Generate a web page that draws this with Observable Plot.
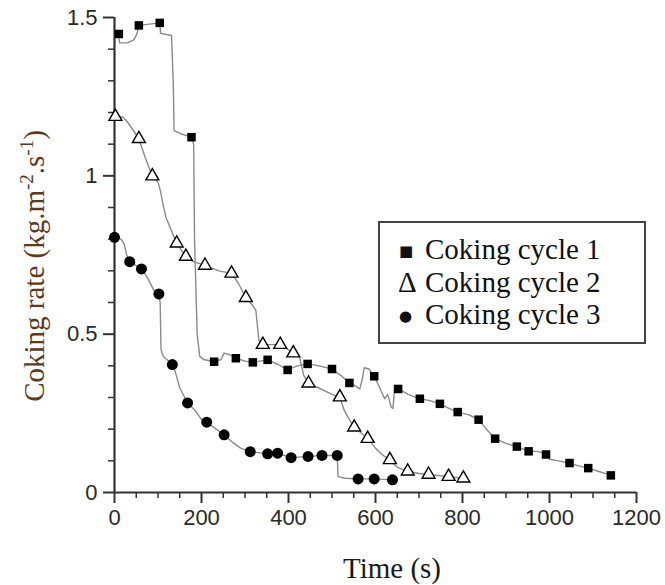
<!DOCTYPE html>
<html>
<head>
<meta charset="utf-8">
<script src="https://cdn.jsdelivr.net/npm/d3@7"></script>
<script src="https://cdn.jsdelivr.net/npm/@observablehq/plot@0.6"></script>
<style>
  html, body { margin: 0; padding: 0; background: white; }
  #chart { position: relative; width: 665px; height: 585px; }
</style>
</head>
<body>
<div id="chart"></div>
<script>
// ---- Data ----
// Coking cycle 1 (squares)
const c1Time = [10, 56, 104, 177, 229, 279, 318, 352, 398, 444, 500, 540, 597, 652, 702, 748, 789, 837, 875, 925, 952, 992, 1046, 1089, 1141];
const c1Rate = [1.448, 1.475, 1.483, 1.122, 0.413, 0.424, 0.411, 0.419, 0.387, 0.406, 0.39, 0.346, 0.367, 0.327, 0.296, 0.28, 0.254, 0.23, 0.17, 0.145, 0.13, 0.12, 0.093, 0.077, 0.054];
const c1TraceTime = [8, 12, 30, 45, 52, 56, 104, 106, 131, 135, 137, 152, 177, 182, 184, 190, 196, 205, 229, 245, 252, 265, 279, 300, 318, 335, 352, 375, 398, 420, 444, 470, 500, 520, 540, 555, 564, 570, 574, 585, 597, 610, 621, 628, 636, 640, 644, 652, 675, 702, 725, 748, 770, 789, 815, 837, 855, 875, 900, 925, 952, 970, 985, 992, 1000, 1020, 1046, 1065, 1089, 1110, 1141];
const c1TraceRate = [1.45, 1.42, 1.42, 1.43, 1.45, 1.475, 1.483, 1.45, 1.443, 1.30, 1.143, 1.133, 1.122, 1.10, 0.80, 0.50, 0.43, 0.42, 0.413, 0.42, 0.44, 0.435, 0.424, 0.415, 0.411, 0.415, 0.419, 0.405, 0.387, 0.40, 0.406, 0.40, 0.39, 0.37, 0.346, 0.335, 0.327, 0.36, 0.394, 0.39, 0.367, 0.33, 0.296, 0.31, 0.27, 0.265, 0.33, 0.327, 0.31, 0.296, 0.29, 0.28, 0.265, 0.254, 0.245, 0.23, 0.2, 0.17, 0.155, 0.145, 0.13, 0.13, 0.125, 0.12, 0.105, 0.1, 0.093, 0.085, 0.077, 0.068, 0.054];

// Coking cycle 2 (triangles)
const c2Time = [2, 56, 87, 143, 164, 208, 269, 302, 341, 381, 411, 446, 518, 551, 582, 633, 674, 722, 768, 802];
const c2Rate = [1.187, 1.117, 0.999, 0.787, 0.745, 0.717, 0.692, 0.615, 0.467, 0.467, 0.44, 0.345, 0.301, 0.206, 0.17, 0.103, 0.067, 0.057, 0.05, 0.045];
const c2TraceTime = [0, 20, 30, 45, 56, 70, 87, 100, 106, 110, 118, 130, 143, 164, 180, 208, 240, 269, 285, 302, 318, 325, 332, 341, 381, 395, 411, 425, 435, 446, 470, 500, 518, 528, 540, 551, 565, 582, 600, 615, 633, 650, 674, 700, 722, 768, 802];
const c2TraceRate = [1.19, 1.185, 1.17, 1.14, 1.117, 1.06, 0.999, 0.98, 0.95, 0.92, 0.87, 0.83, 0.787, 0.745, 0.73, 0.717, 0.70, 0.692, 0.66, 0.615, 0.59, 0.575, 0.48, 0.467, 0.467, 0.455, 0.44, 0.43, 0.37, 0.345, 0.33, 0.31, 0.301, 0.26, 0.23, 0.206, 0.19, 0.17, 0.14, 0.12, 0.103, 0.08, 0.067, 0.06, 0.057, 0.05, 0.045];

// Coking cycle 3 (circles)
const c3Time = [0, 35, 62, 102, 133, 168, 212, 252, 312, 352, 375, 406, 445, 477, 512, 560, 597, 639];
const c3Rate = [0.806, 0.729, 0.706, 0.627, 0.404, 0.283, 0.222, 0.182, 0.129, 0.122, 0.124, 0.11, 0.114, 0.117, 0.117, 0.043, 0.043, 0.04];
const c3TraceTime = [0, 15, 22, 28, 35, 62, 75, 90, 102, 105, 107, 112, 133, 140, 150, 168, 185, 200, 212, 252, 270, 290, 312, 352, 375, 406, 445, 477, 512, 514, 530, 560, 597, 639];
const c3TraceRate = [0.806, 0.80, 0.785, 0.75, 0.729, 0.706, 0.68, 0.64, 0.627, 0.60, 0.45, 0.43, 0.404, 0.38, 0.33, 0.283, 0.26, 0.23, 0.222, 0.182, 0.16, 0.14, 0.129, 0.122, 0.124, 0.11, 0.114, 0.117, 0.117, 0.05, 0.045, 0.043, 0.043, 0.04];

// Ticks and texts
const xMajorTicks = [0, 200, 400, 600, 800, 1000, 1200];
const xMinorTicks = [50, 100, 150, 250, 300, 350, 450, 500, 550, 650, 700, 750, 850, 900, 950, 1050, 1100, 1150];
const yMajorTicks = [0, 0.5, 1, 1.5];
const yMinorTicks = [0.1, 0.2, 0.3, 0.4, 0.6, 0.7, 0.8, 0.9, 1.1, 1.2, 1.3, 1.4];
const seriesNames = ["Coking cycle 1", "Coking cycle 2", "Coking cycle 3"];
const legendGlyphs = ["\u25A0", "\u0394", "\u25CF"];
const xTitle = "Time (s)";
const yTitleParts = ["Coking rate (kg.m", "-2", ".s", "-1", ")"];

// ---- Build tables ----
const zip = (t, r) => t.map((d, i) => ({t: d, r: r[i]}));
const c1 = zip(c1Time, c1Rate), c1Trace = zip(c1TraceTime, c1TraceRate);
const c2 = zip(c2Time, c2Rate), c2Trace = zip(c2TraceTime, c2TraceRate);
const c3 = zip(c3Time, c3Rate), c3Trace = zip(c3TraceTime, c3TraceRate);

const axisColor = "#333";
const lineColor = "#8a8a8a";

const svg = Plot.plot({
  width: 665,
  height: 585,
  marginLeft: 114,
  marginRight: 29,
  marginTop: 17,
  marginBottom: 93,
  x: {domain: [0, 1200]},
  y: {domain: [0, 1.5]},
  style: {fontFamily: "'Liberation Sans', Arial, sans-serif", fontSize: "22px", color: "#2a2a2a", background: "white", overflow: "visible"},
  marks: [
    Plot.axisX({ticks: xMinorTicks, tickSize: 6, tickFormat: () => "", label: null, stroke: axisColor, strokeWidth: 1.5}),
    Plot.axisX({ticks: xMajorTicks, tickSize: 11, tickPadding: 6, tickFormat: d => String(d), label: null, stroke: axisColor, strokeWidth: 2}),
    Plot.axisY({ticks: yMinorTicks, tickSize: 6, tickFormat: () => "", label: null, stroke: axisColor, strokeWidth: 1.5}),
    Plot.axisY({ticks: yMajorTicks, tickSize: 11, tickPadding: 6, tickFormat: d => String(d), label: null, stroke: axisColor, strokeWidth: 2}),
    Plot.ruleY([0], {stroke: axisColor, strokeWidth: 2.2}),
    Plot.ruleX([0], {stroke: axisColor, strokeWidth: 2.2}),
    Plot.line(c1Trace, {x: "t", y: "r", stroke: lineColor, strokeWidth: 1.4}),
    Plot.line(c2Trace, {x: "t", y: "r", stroke: lineColor, strokeWidth: 1.4}),
    Plot.line(c3Trace, {x: "t", y: "r", stroke: lineColor, strokeWidth: 1.4}),
    Plot.dot(c1, {x: "t", y: "r", symbol: "square", r: 4.8, fill: "black", stroke: "none"}),
    Plot.dot(c2, {x: "t", y: "r", symbol: "triangle", r: 4.8, fill: "white", stroke: "black", strokeWidth: 1.4}),
    Plot.dot(c3, {x: "t", y: "r", symbol: "circle", r: 5.5, fill: "black", stroke: "none"})
  ]
});

const s = d3.select(svg);
const serif = "'Liberation Serif', 'Times New Roman', serif";

// Y title with superscripts
const yt = s.append("text")
  .attr("transform", "translate(44,266) rotate(-90)")
  .attr("text-anchor", "middle")
  .attr("fill", "#5b3a1e")
  .style("font-family", serif)
  .style("font-size", "29px");
yt.append("tspan").text(yTitleParts[0]);
yt.append("tspan").attr("dy", -11).style("font-size", "19px").text(yTitleParts[1]);
yt.append("tspan").attr("dy", 11).text(yTitleParts[2]);
yt.append("tspan").attr("dy", -11).style("font-size", "19px").text(yTitleParts[3]);
yt.append("tspan").attr("dy", 11).text(yTitleParts[4]);

// X title
s.append("text")
  .attr("x", 392).attr("y", 578)
  .attr("text-anchor", "middle")
  .attr("fill", "#1a1a1a")
  .style("font-family", serif)
  .style("font-size", "29px")
  .text(xTitle);

// Legend
const lg = s.append("g").attr("text-anchor", "start");
lg.append("rect").attr("x", 379).attr("y", 222).attr("width", 266).attr("height", 121)
  .attr("fill", "white").attr("stroke", "#444").attr("stroke-width", 2);
const baselines = [259, 292, 324];
seriesNames.forEach((name, i) => {
  const glyphSize = i === 1 ? "29px" : "15px";
  lg.append("text")
    .attr("text-anchor", "start")
    .attr("x", i === 1 ? 398 : 399).attr("y", i === 1 ? baselines[i] : baselines[i] - 3)
    .attr("fill", "#111")
    .style("font-family", i === 1 ? serif : "'DejaVu Sans', sans-serif")
    .style("font-size", glyphSize)
    .text(legendGlyphs[i]);
  lg.append("text")
    .attr("text-anchor", "start")
    .attr("x", 425).attr("y", baselines[i])
    .attr("fill", "#111")
    .style("font-family", serif)
    .style("font-size", "29px")
    .text(name);
});

document.getElementById("chart").appendChild(svg);
</script>
</body>
</html>
